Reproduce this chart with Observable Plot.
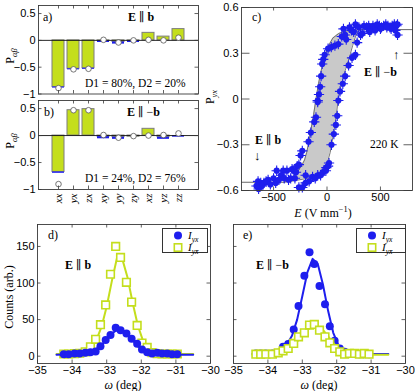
<!DOCTYPE html>
<html><head><meta charset="utf-8">
<script src="https://cdn.jsdelivr.net/npm/d3@7"></script>
<script src="https://cdn.jsdelivr.net/npm/@observablehq/plot@0.6"></script>
<style>
body{margin:0;background:#fff;}
#fig{position:relative;width:415px;height:391px;overflow:hidden;background:#fff;}
.t{position:absolute;font-family:"Liberation Serif","DejaVu Serif",serif;font-size:12px;color:#000;white-space:nowrap;line-height:1;}
.r{transform:translate(-50%,-50%) rotate(-90deg);}
.c{transform:translateX(-50%);}
sub,sup{font-size:70%;line-height:0;}
.leg{position:absolute;border:1px solid #333;background:#fff;box-sizing:border-box;}
</style></head><body><div id="fig"></div><script>
// ---------- data ----------
const comps = ["xx","yx","zx","xy","yy","zy","xz","yz","zz"];
// panel a (E || b)
const aGreen = [-0.87,-0.53,-0.52,-0.01,-0.03,-0.01,0.14,0.07,0.21];
const aBlue  = [-0.02,-0.02,-0.02,-0.03,-0.04,-0.03,0,0,0];
const aCalc  = [-0.89,-0.54,-0.53,0.01,-0.04,0.0,0.01,0.0,0.05];
// panel b (E || -b)
const bGreen = [-0.675,0.47,0.49,-0.02,-0.03,-0.02,0.125,-0.03,0.0];
const bBlue  = [-0.025,0,0,-0.04,-0.04,0,0,-0.04,-0.03];
const bCalc  = [-0.9,0.47,0.47,0.01,-0.04,-0.01,0.0,0.01,0.04];
const barYTicks = [-1,-0.5,0,0.5];

// panel c hysteresis
const loopP     = [-0.546,-0.54,-0.52,-0.5,-0.47,-0.44,-0.4,-0.35,-0.3,-0.2,-0.1,0,0.1,0.2,0.3,0.35,0.4,0.43,0.445,0.455];
const loopLeft  = [-400,-385,-340,-305,-270,-240,-210,-190,-175,-150,-125,-103,-80,-50,-12,15,55,110,170,310];
const loopRight = [-400,-340,-180,-110,-50,-20,10,30,42,68,88,105,135,175,220,240,262,280,295,310];
const tailLowE = [-800,-400], tailLowP = [-0.546,-0.546];
const tailHighE = [310,800], tailHighP = [0.455,0.455];
const cE = [-87,-64,-45,-22,10,40,74,106,138,170,180,154,-55,-35,-75,
  266,298,314,282,230,250,210,346,370,390,410,430,450,470,490,510,530,550,570,590,610,630,650,660,660,640,600,560,500,450,400,330,
  266,234,202,170,148,122,106,
  96,83,64,42,19,-6,-38,-87,-135,-167,-10,10,-60,-110,
  -87,-103,-119,-151,-173,-231,-247,-263,-279,-327,-375,-410,-430,-471,-500,-551,-590,-610,-640,-620,
  -570,-530,-480,-450,-400,-360,-340,-300,-263,-231,-200,-310,-290,-200,-660,-645];
const cP = [-0.01,0.08,0.23,0.29,0.33,0.34,0.35,0.36,0.41,0.42,0.39,0.46,0.15,0.26,0.03,
  0.49,0.47,0.42,0.37,0.45,0.44,0.47,0.48,0.47,0.48,0.46,0.48,0.47,0.49,0.48,0.47,0.48,0.49,0.48,0.47,0.48,0.49,0.48,0.49,0.42,0.45,0.46,0.47,0.46,0.45,0.44,0.43,
  0.29,0.27,0.22,0.15,0.10,0.05,-0.01,
  -0.11,-0.17,-0.23,-0.30,-0.42,-0.45,-0.48,-0.50,-0.51,-0.54,-0.47,-0.44,-0.50,-0.52,
  -0.02,-0.12,-0.15,-0.22,-0.28,-0.34,-0.37,-0.43,-0.44,-0.46,-0.47,-0.47,-0.50,-0.47,-0.52,-0.53,-0.55,-0.57,-0.59,-0.55,
  -0.54,-0.56,-0.55,-0.53,-0.52,-0.53,-0.52,-0.52,-0.58,-0.58,-0.55,-0.47,-0.48,-0.50,-0.57,-0.54];
const cXTicks = [-500,0,500], cYTicks = [-0.6,-0.3,0,0.3,0.6];

// panels d, e rocking curves
const dW = [-34.24,-34.1,-33.93,-33.78,-33.62,-33.47,-33.32,-33.18,-33.03,-32.89,-32.74,-32.6,-32.43,-32.28,-32.12,-31.98,-31.83,-31.69,-31.54,-31.4,-31.25,-31.11,-30.96];
const dBlue  = [2.7,2.7,3.7,3.7,4.6,5.5,6.4,13.7,22,29,38.8,35.6,31,24,17,9,5.5,3.7,4.6,3.7,3.7,2.7,2.7];
const dGreen = [3,3,3.5,4,6,12.8,23,43,70,112,150,135,101,74,42,18,12,5,3.5,3,3,3,3];
const eW = [-34.35,-34.21,-34.06,-33.87,-33.7,-33.56,-33.41,-33.25,-33.11,-32.94,-32.79,-32.65,-32.5,-32.34,-32.2,-32.06,-31.91,-31.77,-31.63,-31.48,-31.34,-31.2,-31.06];
const eBlue  = [3.7,3.7,3.7,3.7,4.6,12.8,16.5,36.6,68.6,110,142,126,96,71,41,21,10.5,6,3.7,3.7,2.7,2.7,2.7];
const eGreen = [2.7,2.7,2.7,2.7,4.6,7.3,10.5,17.4,26.5,32,42.5,43.4,35.6,26.5,18.3,10.5,6,2.7,3.7,3.7,2.7,3.7,2.7];
const fitW = [-34.45,-34.0,-33.7,-33.5,-33.3,-33.15,-33.0,-32.85,-32.7,-32.55,-32.4,-32.25,-32.1,-31.95,-31.8,-31.6,-31.3,-30.9,-30.5];
const dFitGreen = [3,3.2,4.5,9,22,40,68,103,135,133,108,73,42,21,10,5,3.2,3,3];
const dFitBlue  = [2,2.5,4,6,10,15,23,31,36,35,30,22,14,8,5,3,2.5,2,2];
const eFitBlue  = [3,3.5,6,12,28,50,82,115,133,126,98,62,32,15,7,4,3,3,3];
const eFitGreen = [2,2.5,4,7,13,20,28,36,41,41,36,27,18,10,6,3.5,2.5,2,2];
const wTicks = [-35,-34,-33,-32,-31,-30], countTicks = [0,50,100,150];

// ---------- helpers ----------
const fig = document.getElementById("fig");
const GREEN = "#c4de1c", BLUE = "#1e1eee", FRAME = "#3a3a3a";
const fmt = d => (d < 0 ? "\u2212" : "") + Math.abs(d);
const style = {fontSize:"11px", fontFamily:"'Liberation Sans', Arial, sans-serif", color:"#000", background:"transparent", overflow:"visible"};
function place(el, left, top){ el.style.position="absolute"; el.style.left=left+"px"; el.style.top=top+"px"; fig.appendChild(el); }
function box(fw, fh, xT, yT){
  const t = 3.5;
  return [
    Plot.tickX(xT, {x: d=>d, insetTop: fh - t, stroke: FRAME, strokeWidth: 0.8}),
    Plot.tickX(xT, {x: d=>d, insetBottom: fh - t, stroke: FRAME, strokeWidth: 0.8}),
    Plot.tickY(yT, {y: d=>d, insetRight: fw - t, stroke: FRAME, strokeWidth: 0.8}),
    Plot.tickY(yT, {y: d=>d, insetLeft: fw - t, stroke: FRAME, strokeWidth: 0.8}),
    Plot.frame({stroke: FRAME, strokeWidth: 0.9})
  ];
}
function text(html, left, top, cls="", size){
  const d = document.createElement("div");
  d.className = "t " + cls; d.innerHTML = html;
  d.style.left = left+"px"; d.style.top = top+"px";
  if (size) d.style.fontSize = size+"px";
  fig.appendChild(d);
}

// ---------- panels a, b ----------
function barPanel(G, B, C, top, mt, mb, height, labels){
  const rows = comps.map((c,i)=>({c, g:G[i], b:B[i], v:C[i]}));
  const fw = 160, fh = height - mt - mb;
  const p = Plot.plot({
    width: 205, height, marginLeft: 38, marginRight: 7, marginTop: mt, marginBottom: mb, style,
    x: labels ? {type:"band", domain: comps, paddingInner:0.19, paddingOuter:0.6, tickSize:0, tickPadding:4, tickRotate:-90, label:null}
              : {type:"band", domain: comps, paddingInner:0.19, paddingOuter:0.6, axis:null},
    y: {domain:[-1,0.65], ticks: barYTicks, tickSize:0, tickPadding:3, tickFormat: fmt, label:null},
    marks: [
      Plot.barY(rows, {x:"c", y1:0, y2:"g", fill: GREEN, stroke:"#7d7d7d", strokeWidth:1}),
      Plot.barY(rows.filter(d=>d.b!==0), {x:"c", y1:"g", y2: d=>d.g+d.b, fill: BLUE}),
      Plot.ruleY([0], {stroke:"#111", strokeWidth:0.9}),
      Plot.dot(rows, {x:"c", y:"v", r:2.8, fill:"white", stroke:"#555", strokeWidth:0.8}),
      ...box(fw, fh, comps, barYTicks)
    ]
  });
  if (labels) p.querySelectorAll('g[aria-label^="x-axis"] text').forEach(t=>{ t.style.fontStyle="italic"; t.style.fontFamily="'Liberation Serif', serif"; t.style.fontSize="11px"; });
  place(p, 0, top);
}
barPanel(aGreen, aBlue, aCalc, 0, 5, 6.5, 100, false);
barPanel(bGreen, bBlue, bCalc, 96, 4, 29, 122, true);

// ---------- panel c ----------
{
  const loop = loopP.map((p,i)=>({p, l:loopLeft[i], r:loopRight[i]}));
  const pts = cE.map((e,i)=>({e, p:cP[i]}));
  const lo = tailLowE.map((e,i)=>({e, p:tailLowP[i]}));
  const hi = tailHighE.map((e,i)=>({e, p:tailHighP[i]}));
  const p = Plot.plot({
    width: 210, height: 220, marginLeft: 36, marginRight: 3, marginTop: 7, marginBottom: 30, style,
    x: {domain:[-800,800], ticks:cXTicks, tickSize:0, tickPadding:3, tickFormat: fmt, label:null},
    y: {domain:[-0.6,0.6], ticks:cYTicks, tickSize:0, tickPadding:3, tickFormat: fmt, label:null},
    marks: [
      Plot.areaX(loop, {y:"p", x1:"l", x2:"r", fill:"#c9c9c9"}),
      Plot.line(loop, {x:"l", y:"p", stroke:"#666", strokeWidth:0.9}),
      Plot.line(loop, {x:"r", y:"p", stroke:"#666", strokeWidth:0.9}),
      Plot.line(lo, {x:"e", y:"p", stroke:"#555", strokeWidth:0.9}),
      Plot.line(hi, {x:"e", y:"p", stroke:"#555", strokeWidth:0.9}),
      Plot.dot(pts, {x:"e", y:"p", symbol:"plus", r:3.4, stroke: BLUE, strokeWidth:1.1}),
      Plot.dot(pts, {x:"e", y:"p", r:3.1, fill: BLUE}),
      ...box(166, 183, cXTicks, cYTicks)
    ]
  });
  place(p, 205, 0);
}

// ---------- panels d, e ----------
function rockPanel(W, Bv, Gv, fitB, fitG, left, ml, fw, mr, showY, greenOnTop){
  const blueRows = W.map((w,i)=>({w, v:Bv[i]}));
  const greenRows = W.map((w,i)=>({w, v:Gv[i]}));
  const fb = fitW.map((w,i)=>({w, v:fitB[i]}));
  const fg = fitW.map((w,i)=>({w, v:fitG[i]}));
  const blueMarks = [Plot.line(fb, {x:"w", y:"v", stroke: BLUE, strokeWidth:2}), Plot.dot(blueRows, {x:"w", y:"v", r:4, fill: BLUE})];
  const greenMarks = [Plot.line(fg, {x:"w", y:"v", stroke: GREEN, strokeWidth:2}), Plot.dot(greenRows, {x:"w", y:"v", symbol:"square", r:4.3, stroke: GREEN, strokeWidth:1.6, fill:"white"})];
  const width = ml + fw + mr;
  const p = Plot.plot({
    width, height: 176, marginLeft: ml, marginRight: mr, marginTop: 9, marginBottom: 28, style,
    x: {domain:[-35,-30], ticks: wTicks, tickSize:0, tickPadding:3, tickFormat: fmt, label:null},
    y: showY ? {domain:[-10,180], ticks: countTicks, tickSize:0, tickPadding:3, tickFormat: fmt, label:null}
             : {domain:[-10,180], axis:null},
    marks: [
      ...(greenOnTop ? [...blueMarks, ...greenMarks] : [...greenMarks, ...blueMarks]),
      ...box(fw, 139, wTicks, countTicks)
    ]
  });
  place(p, left, 215);
}
rockPanel(dW, dBlue, dGreen, dFitBlue, dFitGreen, 0, 37, 173, 3, true, false);
rockPanel(eW, eBlue, eGreen, eFitBlue, eFitGreen, 215, 18, 172, 5, false, true);

// ---------- legends ----------
function legend(left, top, w){
  const d = document.createElement("div");
  d.className = "leg";
  d.style.left = left+"px"; d.style.top = top+"px"; d.style.width = w+"px"; d.style.height = "25px";
  d.innerHTML = `<svg width="${w}" height="25" style="position:absolute;left:0;top:0">
    <circle cx="15" cy="6.5" r="4" fill="${BLUE}"/>
    <rect x="11.3" y="14.8" width="7.4" height="7.4" fill="white" stroke="${GREEN}" stroke-width="1.6"/></svg>
    <div class="t" style="left:25px;top:1px;font-size:11px"><i>I</i><sub><i>yx</i></sub></div>
    <div class="t" style="left:25px;top:13px;font-size:11px"><i>I</i><sub><i>yx&#772;</i></sub></div>`;
  fig.appendChild(d);
}
legend(162, 228, 46);
legend(356, 228, 50);

// ---------- annotations ----------
text("a)", 43, 11);
text("<b>E</b> &#8741; <b>b</b>", 128, 11);
text("D1 = 80%, D2 = 20%", 85, 78, "", 11.5);
text("b)", 44, 106);
text("<b>E</b> &#8741; &minus;<b>b</b>", 127, 106);
text("D1 = 24%, D2 = 76%", 85, 173, "", 11.5);
text("P<sub><i>&alpha;&beta;</i></sub>", 10, 56, "r");
text("P<sub><i>&alpha;&beta;</i></sub>", 10, 141, "r");
text("c)", 252, 11);
text("&uarr;", 393, 48, "", 13);
text("<b>E</b> &#8741; &minus;<b>b</b>", 364, 66);
text("<b>E</b> &#8741; <b>b</b>", 255, 134);
text("&darr;", 254, 149, "", 13);
text("220 K", 370, 139, "", 11.5);
text("P<sub><i>yx</i></sub>", 210, 97, "r");
text("<i>E</i> (V mm<sup>&minus;1</sup>)", 323, 207, "c");
text("d)", 48, 229);
text("<b>E</b> &#8741; <b>b</b>", 65, 259);
text("e)", 243, 229);
text("<b>E</b> &#8741; &minus;<b>b</b>", 256, 259);
text("Counts (arb.)", 9, 297, "r");
text("<i>&omega;</i> (deg)", 123, 379, "c");
text("<i>&omega;</i> (deg)", 319, 379, "c");
</script></body></html>
